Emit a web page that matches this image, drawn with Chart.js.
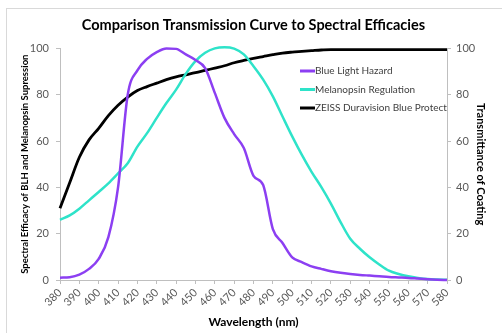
<!DOCTYPE html>
<html lang="en">
<head>
    <meta charset="UTF-8">
    <title>Comparison Transmission Curve</title>
    <script src="https://cdn.jsdelivr.net/npm/chart.js"></script>
    <style>
        body { margin: 0; background: #ffffff; }
        #wrap { width: 502px; height: 333px; }
    </style>
</head>
<body>
    <div id="wrap">
        <canvas id="transChart" width="502" height="333"></canvas>
    </div>

    <script>
        // wavelengths in nm
        const wavelengths = [380, 385, 390, 395, 400, 405, 410, 415, 420, 425, 430, 435, 440, 445, 450, 455, 460, 465, 470, 475,
                             480, 485, 490, 495, 500, 505, 510, 515, 520, 525, 530, 535, 540, 545, 550, 555, 560, 565, 570, 575, 580];

        const blueLightHazard = [1, 1.2, 2.3, 4.8, 9.1, 18.5, 40, 80, 90.5, 95.5, 98.4, 100, 99.8, 97.4, 95, 91.5, 80.8, 70, 63, 57,
                                 45, 41, 22, 16, 9.8, 7.7, 5.9, 4.8, 3.8, 3.1, 2.6, 2.2, 1.9, 1.6, 1.3, 1.1, 0.9, 0.6, 0.3, 0.1, 0];

        const melanopsin = [26, 27.9, 30.8, 34.4, 38, 41.7, 46, 50.4, 57.6, 63.4, 70, 76.4, 82.2, 89, 94.5, 98.1, 100, 100.5, 99.9, 97.4,
                            92.3, 86.5, 79.3, 70.6, 62, 54, 46.7, 40.2, 33, 25, 17.8, 13.5, 9.8, 6.7, 4, 2.6, 1.6, 0.9, 0.4, 0.2, 0.1];

        const zeissCoating = [31, 42, 53, 60.5, 65.5, 71, 75.5, 79, 81.8, 83.5, 85, 86.5, 87.7, 88.6, 89.5, 90.5, 91.5, 92.5, 93.8, 94.8,
                              95.7, 96.5, 97.3, 98, 98.4, 98.7, 99, 99.3, 99.5, 99.5, 99.5, 99.5, 99.5, 99.5, 99.5, 99.5, 99.5, 99.5, 99.5, 99.5, 99.5];

        const yTicks = [0, 20, 40, 60, 80, 100];

        function toPoints(values) {
            return wavelengths.map((w, i) => ({ x: w, y: values[i] }));
        }

        const tickColor = '#595959';
        const axisColor = '#bfbfbf';

        // white background + light frame around the chart
        const framePlugin = {
            id: 'frame',
            beforeDraw(chart) {
                const ctx = chart.ctx;
                ctx.save();
                ctx.fillStyle = '#ffffff';
                ctx.fillRect(0, 0, chart.width, chart.height);
                ctx.strokeStyle = '#d9d9d9';
                ctx.lineWidth = 1;
                ctx.strokeRect(6.5, 8.5, chart.width + 20, chart.height + 20);
                ctx.restore();
            }
        };

        // legend sits inside the plot area, top right
        const insideLegend = {
            id: 'insideLegend',
            afterDatasetsDraw(chart) {
                const ctx = chart.ctx;
                ctx.save();
                ctx.font = '10px Lato';
                ctx.textBaseline = 'middle';
                chart.data.datasets.forEach((ds, i) => {
                    const y = 71 + i * 18.5;
                    ctx.strokeStyle = ds.borderColor;
                    ctx.lineWidth = 3;
                    ctx.beginPath();
                    ctx.moveTo(300, y);
                    ctx.lineTo(315, y);
                    ctx.stroke();
                    ctx.fillStyle = '#404040';
                    ctx.fillText(ds.label, 315, y);
                });
                ctx.restore();
            }
        };

        const ctx = document.getElementById('transChart').getContext('2d');

        const transChart = new Chart(ctx, {
            type: 'line',
            data: {
                datasets: [
                    {
                        label: 'Blue Light Hazard',
                        data: toPoints(blueLightHazard),
                        borderColor: '#8c3ff2',
                        borderWidth: 2.5,
                        yAxisID: 'y'
                    },
                    {
                        label: 'Melanopsin Regulation',
                        data: toPoints(melanopsin),
                        borderColor: '#2ee3c9',
                        borderWidth: 2.5,
                        yAxisID: 'y'
                    },
                    {
                        label: 'ZEISS Duravision Blue Protect',
                        data: toPoints(zeissCoating),
                        borderColor: '#000000',
                        borderWidth: 2.8,
                        yAxisID: 'y2'
                    }
                ]
            },
            options: {
                responsive: false,
                animation: false,
                layout: { padding: 0 },
                elements: {
                    point: { radius: 0 },
                    line: { cubicInterpolationMode: 'monotone', fill: false }
                },
                datasets: { line: { clip: 6 } },
                plugins: {
                    legend: { display: false },
                    tooltip: { enabled: false },
                    title: {
                        display: true,
                        text: 'Comparison Transmission Curve to Spectral Efficacies',
                        fullSize: false,
                        color: '#000000',
                        font: { family: 'Lato', size: 14.5, weight: 'bold' },
                        padding: { top: 17, bottom: 14 }
                    }
                },
                scales: {
                    x: {
                        type: 'linear',
                        min: 380,
                        max: 580,
                        afterFit: (scale) => { scale.height = 53; },
                        border: { display: true, color: axisColor },
                        grid: { drawOnChartArea: false, drawTicks: true, tickLength: 4, color: axisColor },
                        ticks: {
                            stepSize: 10,
                            autoSkip: false,
                            minRotation: 45,
                            maxRotation: 45,
                            padding: 2,
                            color: tickColor,
                            font: { family: 'Lato', size: 11 }
                        },
                        title: {
                            display: true,
                            text: 'Wavelength (nm)',
                            color: '#000000',
                            font: { family: 'Lato', size: 12, weight: 'bold' },
                            padding: { top: 0, bottom: 4 }
                        }
                    },
                    y: {
                        position: 'left',
                        min: 0,
                        max: 100,
                        afterFit: (scale) => { scale.width = 60; },
                        afterBuildTicks: (scale) => { scale.ticks = yTicks.map(v => ({ value: v })); },
                        border: { display: true, color: axisColor },
                        grid: { drawOnChartArea: false, drawTicks: true, tickLength: 4, color: axisColor },
                        ticks: { padding: 7, color: tickColor, font: { family: 'Lato', size: 11 } },
                        title: {
                            display: true,
                            text: 'Spectral Efficacy of BLH and Melanopsin Supression',
                            color: '#000000',
                            font: { family: 'Lato', size: 9.5, weight: 'bold' },
                            padding: { top: 19, bottom: 0 }
                        }
                    },
                    y2: {
                        position: 'right',
                        min: 0,
                        max: 100,
                        afterFit: (scale) => { scale.width = 55; },
                        afterBuildTicks: (scale) => { scale.ticks = yTicks.map(v => ({ value: v })); },
                        border: { display: true, color: axisColor },
                        grid: { drawOnChartArea: false, drawTicks: true, tickLength: 4, color: axisColor },
                        ticks: { padding: 5, color: tickColor, font: { family: 'Lato', size: 11 } },
                        title: {
                            display: true,
                            text: 'Transmittance of Coating',
                            color: '#000000',
                            font: { family: 'Lato', size: 11, weight: 'bold' },
                            padding: { top: 15, bottom: 0 }
                        }
                    }
                }
            },
            plugins: [framePlugin, insideLegend]
        });
    </script>
</body>
</html>
